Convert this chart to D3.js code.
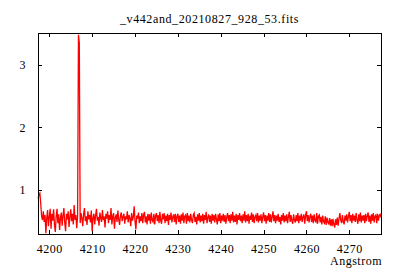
<!DOCTYPE html>
<html>
<head>
<meta charset="utf-8">
<script src="https://cdn.jsdelivr.net/npm/d3@7"></script>
<style>
  body { margin: 0; background: #fff; }
  text { font-family: "Liberation Serif", serif; font-size: 12px; fill: #000; }
</style>
</head>
<body>
<div class="chart"></div>
<script>
// spectrum data
var titleText = "_v442and_20210827_928_53.fits";
var xLabelText = "Angstrom";
var waveStart = 4197.4;
var waveStep = 0.2;
var xTicks = [4200, 4210, 4220, 4230, 4240, 4250, 4260, 4270];
var yTicks = [1, 2, 3];

var flux = [
  0.86, 0.93, 0.95, 0.78, 0.58, 0.52, 0.66, 0.49, 0.60, 0.31, 0.55, 0.68, 0.42, 0.57, 0.70, 0.38, 0.62, 0.51, 0.69, 0.45,
  0.33, 0.58, 0.70, 0.47, 0.61, 0.36, 0.55, 0.64, 0.43, 0.59, 0.71, 0.48, 0.34, 0.62, 0.53, 0.66, 0.41, 0.57, 0.69, 0.50,
  0.62, 0.45, 0.76, 0.52, 0.60, 0.39, 0.58, 3.48, 3.35, 0.47, 0.63, 0.55, 0.42, 0.61, 0.71, 0.50, 0.58, 0.44, 0.66, 0.53,
  0.60, 0.48, 0.67, 0.34, 0.56, 0.62, 0.45, 0.59, 0.70, 0.51, 0.57, 0.43, 0.64, 0.55, 0.49, 0.68, 0.52, 0.58, 0.40, 0.62,
  0.54, 0.66, 0.47, 0.60, 0.52, 0.71, 0.45, 0.58, 0.63, 0.38, 0.56, 0.61, 0.49, 0.67, 0.53, 0.44, 0.59, 0.64, 0.50, 0.57,
  0.62, 0.46, 0.58, 0.53, 0.66, 0.48, 0.60, 0.55, 0.42, 0.63, 0.51, 0.57, 0.74, 0.50, 0.37, 0.59, 0.54, 0.64, 0.47, 0.58,
  0.50, 0.63, 0.47, 0.60, 0.65, 0.48, 0.58, 0.45, 0.62, 0.51, 0.61, 0.46, 0.64, 0.52, 0.49, 0.62, 0.45, 0.59, 0.63, 0.50,
  0.60, 0.47, 0.65, 0.51, 0.46, 0.62, 0.53, 0.63, 0.47, 0.59, 0.50, 0.62, 0.44, 0.60, 0.52, 0.64, 0.48, 0.57, 0.61, 0.49,
  0.62, 0.45, 0.58, 0.62, 0.49, 0.59, 0.46, 0.61, 0.51, 0.64, 0.47, 0.58, 0.60, 0.46, 0.63, 0.50, 0.59, 0.48, 0.62, 0.52,
  0.47, 0.60, 0.63, 0.49, 0.57, 0.45, 0.61, 0.51, 0.63, 0.48, 0.59, 0.50, 0.62, 0.46, 0.60, 0.52, 0.65, 0.47, 0.56, 0.61,
  0.49, 0.59, 0.46, 0.62, 0.51, 0.60, 0.48, 0.62, 0.53, 0.45, 0.61, 0.50, 0.63, 0.47, 0.59, 0.51, 0.62, 0.49, 0.60, 0.46,
  0.57, 0.63, 0.50, 0.60, 0.47, 0.61, 0.51, 0.65, 0.48, 0.59, 0.49, 0.62, 0.45, 0.60, 0.52, 0.63, 0.50, 0.59, 0.47, 0.61,
  0.51, 0.66, 0.48, 0.60, 0.50, 0.62, 0.46, 0.59, 0.52, 0.64, 0.49, 0.61, 0.47, 0.57, 0.60, 0.50, 0.63, 0.48, 0.59, 0.51,
  0.61, 0.47, 0.57, 0.64, 0.50, 0.60, 0.46, 0.59, 0.51, 0.63, 0.49, 0.61, 0.48, 0.57, 0.66, 0.50, 0.60, 0.47, 0.59, 0.51,
  0.62, 0.49, 0.57, 0.45, 0.60, 0.51, 0.63, 0.48, 0.59, 0.50, 0.61, 0.47, 0.57, 0.65, 0.49, 0.60, 0.51, 0.46, 0.61, 0.52,
  0.48, 0.60, 0.50, 0.63, 0.47, 0.59, 0.51, 0.62, 0.49, 0.57, 0.61, 0.46, 0.59, 0.66, 0.50, 0.60, 0.48, 0.57, 0.62, 0.49,
  0.59, 0.47, 0.61, 0.51, 0.49, 0.63, 0.46, 0.58, 0.60, 0.48, 0.57, 0.45, 0.59, 0.49, 0.47, 0.58, 0.44, 0.56, 0.48, 0.46,
  0.55, 0.43, 0.53, 0.42, 0.54, 0.45, 0.40, 0.53, 0.44, 0.56, 0.43, 0.54, 0.63, 0.52, 0.47, 0.60, 0.49, 0.45, 0.59, 0.51,
  0.61, 0.48, 0.58, 0.65, 0.50, 0.60, 0.47, 0.62, 0.51, 0.59, 0.49, 0.63, 0.52, 0.46, 0.61, 0.50, 0.64, 0.48, 0.59, 0.51,
  0.60, 0.47, 0.62, 0.50, 0.58, 0.64, 0.49, 0.59, 0.46, 0.61, 0.51, 0.63, 0.48, 0.58, 0.60, 0.47, 0.62, 0.51, 0.59, 0.61, 0.56
];

var svgWidth = 400;
var svgHeight = 280;

var margin = { top: 33, right: 19, bottom: 46, left: 38 };

var width = svgWidth - margin.left - margin.right;
var height = svgHeight - margin.top - margin.bottom;

var svg = d3.select(".chart")
  .append("svg")
  .attr("width", svgWidth)
  .attr("height", svgHeight);

var chartGroup = svg.append("g")
  .attr("transform", `translate(${margin.left}, ${margin.top})`);

var points = flux.map((f, i) => ({ wave: waveStart + i * waveStep, flux: f }));

var xScale = d3.scaleLinear()
  .domain([4197.36, 4277.4])
  .range([0, width]);

var yScale = d3.scaleLinear()
  .domain([0.296, 3.51])
  .range([height, 0]);

var tickLen = 4;

// bottom + top axes (inward ticks, mirrored)
var bottomAxis = d3.axisBottom(xScale).tickValues(xTicks).tickSize(-tickLen).tickPadding(10).tickFormat(d3.format("d"));
var topAxis = d3.axisTop(xScale).tickValues(xTicks).tickSize(-tickLen).tickFormat("");
var leftAxis = d3.axisLeft(yScale).tickValues(yTicks).tickSize(-tickLen).tickPadding(12).tickFormat(d3.format("d"));
var rightAxis = d3.axisRight(yScale).tickValues(yTicks).tickSize(-tickLen).tickFormat("");

function styleAxis(g) {
  g.select(".domain").remove();
  g.selectAll(".tick line").attr("stroke", "#000").attr("shape-rendering", "crispEdges");
  g.selectAll(".tick text")
    .style("font-family", "Liberation Serif")
    .style("font-size", "12px")
    .style("letter-spacing", "0.5px");
}

chartGroup.append("g").attr("transform", `translate(0, ${height})`).call(bottomAxis).call(styleAxis);
chartGroup.append("g").call(topAxis).call(styleAxis);
chartGroup.append("g").call(leftAxis).call(styleAxis);
chartGroup.append("g").attr("transform", `translate(${width}, 0)`).call(rightAxis).call(styleAxis);

var line = d3.line()
  .x(d => xScale(d.wave))
  .y(d => yScale(d.flux));

chartGroup.append("path")
  .datum(points)
  .attr("fill", "none")
  .attr("stroke", "#ff0000")
  .attr("stroke-width", 1.3)
  .attr("d", line);

// frame
chartGroup.append("rect")
  .attr("x", 0.5)
  .attr("y", 0.5)
  .attr("width", width)
  .attr("height", height)
  .attr("fill", "none")
  .attr("stroke", "#000")
  .attr("stroke-width", 1)
  .attr("shape-rendering", "crispEdges");

svg.append("text")
  .attr("x", margin.left + width / 2)
  .attr("y", 23)
  .attr("text-anchor", "middle")
  .style("letter-spacing", "0.6px")
  .text(titleText);

svg.append("text")
  .attr("x", margin.left + width + 1)
  .attr("y", 265)
  .attr("text-anchor", "end")
  .style("letter-spacing", "0.5px")
  .text(xLabelText);
</script>
</body>
</html>
